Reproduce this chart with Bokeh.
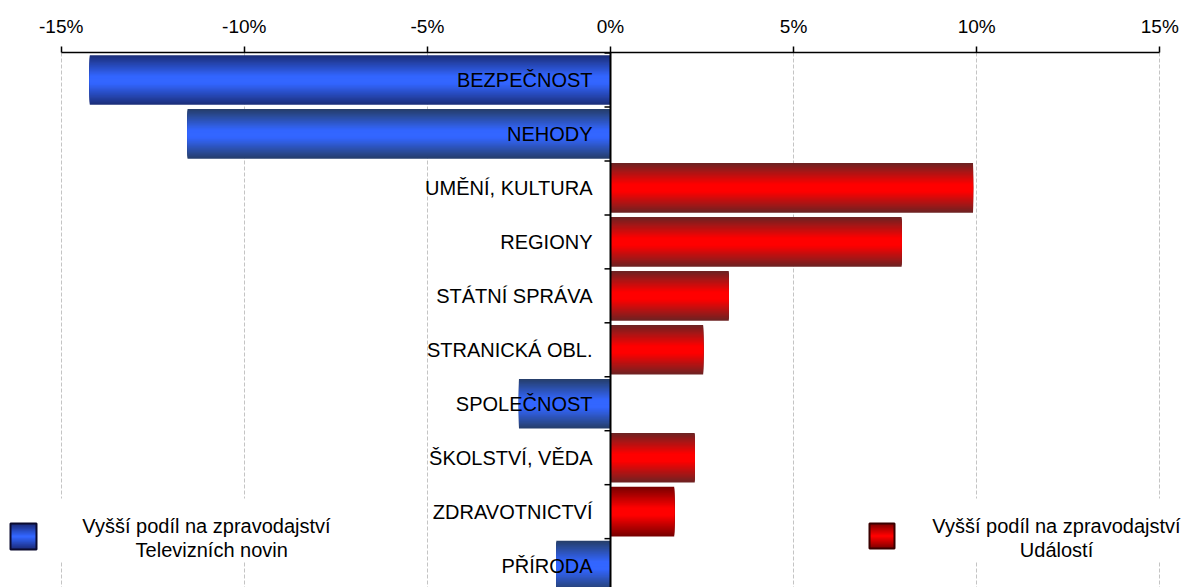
from bokeh.plotting import figure
from bokeh.models import Range1d, FixedTicker, Span, ColumnDataSource
from bokeh.core.properties import value
from bokeh.embed import file_html
from bokeh.resources import INLINE

# ---------------- data ----------------
categories = ["BEZPEČNOST", "NEHODY", "UMĚNÍ, KULTURA", "REGIONY", "STÁTNÍ SPRÁVA",
              "STRANICKÁ OBL.", "SPOLEČNOST", "ŠKOLSTVÍ, VĚDA", "ZDRAVOTNICTVÍ", "PŘÍRODA"]
values = [-14.22, -11.55, 9.90, 7.95, 3.23, 2.53, -2.50, 2.30, 1.74, -1.48]
ticks = [-15, -10, -5, 0, 5, 10, 15]
tick_labels = ["-15%", "-10%", "-5%", "0%", "5%", "10%", "15%"]
legend_left_lines = ["Vyšší podíl na zpravodajství", "Televizních  novin"]
legend_right_lines = ["Vyšší podíl na zpravodajství", "Událostí"]

# ---------------- layout helpers (canvas pixels -> data) ----------------
X0_PX, PPU_X = 610.0, 36.62
Y0_PX, PPU_Y = 52.5, 53.96
W, H = 1186, 587
FRAME_TOP = 52


def px_x(px):
    return (px - X0_PX) / PPU_X


def px_y(py):
    return (py - Y0_PX) / PPU_Y


FONT = "Liberation Sans"

p = figure(width=W, height=H, output_backend="svg", toolbar_location=None,
           x_range=Range1d(px_x(0), px_x(W)),
           y_range=Range1d(px_y(H), px_y(FRAME_TOP)),
           x_axis_location="above", y_axis_location=None,
           min_border_left=0, min_border_right=0, min_border_bottom=0,
           min_border_top=FRAME_TOP)
p.outline_line_color = None
p.background_fill_color = "white"
p.border_fill_color = "white"

# axis
ax = p.xaxis[0]
ax.ticker = FixedTicker(ticks=ticks)
ax.major_label_overrides = {t: l for t, l in zip(ticks, tick_labels)}
ax.bounds = (ticks[0], ticks[-1])
ax.axis_line_color = "black"
ax.axis_line_width = 1.5
ax.major_tick_line_color = "black"
ax.major_tick_line_width = 1.5
ax.major_tick_out = 6
ax.major_tick_in = 0
ax.minor_tick_line_color = None
ax.major_label_standoff = 10
ax.major_label_text_font = FONT
ax.major_label_text_font_size = "19px"
ax.major_label_text_color = "black"

# grid
p.xgrid.ticker = FixedTicker(ticks=[t for t in ticks if t != 0])
p.xgrid.grid_line_color = "#c4c4c4"
p.xgrid.grid_line_dash = "4 2"
p.xgrid.grid_line_width = 1
p.ygrid.grid_line_color = None

# ---------------- gradient bars ----------------
def hex2rgb(h):
    h = h.lstrip("#")
    return tuple(int(h[i:i + 2], 16) for i in (0, 2, 4))


def lerp(c1, c2, t):
    a, b = hex2rgb(c1), hex2rgb(c2)
    return "#%02x%02x%02x" % tuple(int(round(a[i] + (b[i] - a[i]) * t)) for i in range(3))


BLUE_EDGE, BLUE_MID = "#263f6c", "#3366ff"
BLUE_EDGE2 = "#1c2f7a"
RED_EDGE, RED_MID = "#6e2323", "#ff0000"
RED_EDGE2 = "#7a0000"

edges = []
mids = []
for c, v in zip(categories, values):
    if v < 0:
        edges.append(BLUE_EDGE2 if c == "BEZPEČNOST" else BLUE_EDGE)
        mids.append(BLUE_MID)
    else:
        edges.append(RED_EDGE2 if c == "ZDRAVOTNICTVÍ" else RED_EDGE)
        mids.append(RED_MID)

BAR_H = 0.92
N = 22
ys = [i + 0.5 for i in range(len(categories))]
src = dict(y=[], right=[], height=[], color=[])
for k in range(N):
    t = k / (N - 1)
    for y, v, e, m in zip(ys, values, edges, mids):
        src["y"].append(y)
        src["right"].append(v)
        src["height"].append(BAR_H * (1 - k / N))
        src["color"].append(lerp(e, m, min(1.0, t * 1.15)))
p.hbar(y="y", left=0, right="right", height="height", color="color",
       source=ColumnDataSource(src), line_color=None)

# category labels
p.text(x=[0] * len(categories), y=ys, text=categories, x_offset=-18,
       text_align="right", text_baseline="middle", text_font=value(FONT),
       text_font_size="20px", text_color="black")

# zero line and category ticks
p.add_layout(Span(location=0, dimension="height", line_color="black", line_width=2))
bounds = [i for i in range(len(categories) + 1)]
p.segment(x0=[0] * len(bounds), y0=bounds, x1=[-6 / PPU_X] * len(bounds), y1=bounds,
          line_color="black", line_width=1.5)

# ---------------- legend ----------------
p.quad(left=[px_x(2), px_x(850)], right=[px_x(352), px_x(1186)],
       top=[px_y(498), px_y(498)], bottom=[px_y(561), px_y(561)],
       fill_color="white", line_color=None)


def swatch(x1, x2, y1, y2, edge, mid, border):
    cy = (y1 + y2) / 2.0
    h = (y2 - y1)
    L, R, T, B, C = [], [], [], [], []
    n = 14
    for k in range(n):
        hh = h * (1 - k / n) / 2.0
        L.append(px_x(x1)); R.append(px_x(x2))
        T.append(px_y(cy - hh)); B.append(px_y(cy + hh))
        C.append(lerp(edge, mid, k / (n - 1)))
    p.quad(left=L, right=R, top=T, bottom=B, fill_color=C, line_color=None)
    p.quad(left=[px_x(x1)], right=[px_x(x2)], top=[px_y(y1)], bottom=[px_y(y2)],
           fill_color=None, line_color=border, line_width=2)


swatch(10, 36, 523, 549, "#1a2a78", "#3366ff", "#0b0b30")
swatch(869, 894, 523, 548, "#800000", "#ff0000", "#3a0000")

p.text(x=[px_x(206), px_x(214)], y=[px_y(525), px_y(549)], text=legend_left_lines,
       text_align="center", text_baseline="middle", text_font=value(FONT),
       text_font_size="20px", text_color="black")
p.text(x=[px_x(1056), px_x(1056)], y=[px_y(525), px_y(549)], text=legend_right_lines,
       text_align="center", text_baseline="middle", text_font=value(FONT),
       text_font_size="20px", text_color="black")

open("out.html", "w").write(file_html(p, INLINE))
